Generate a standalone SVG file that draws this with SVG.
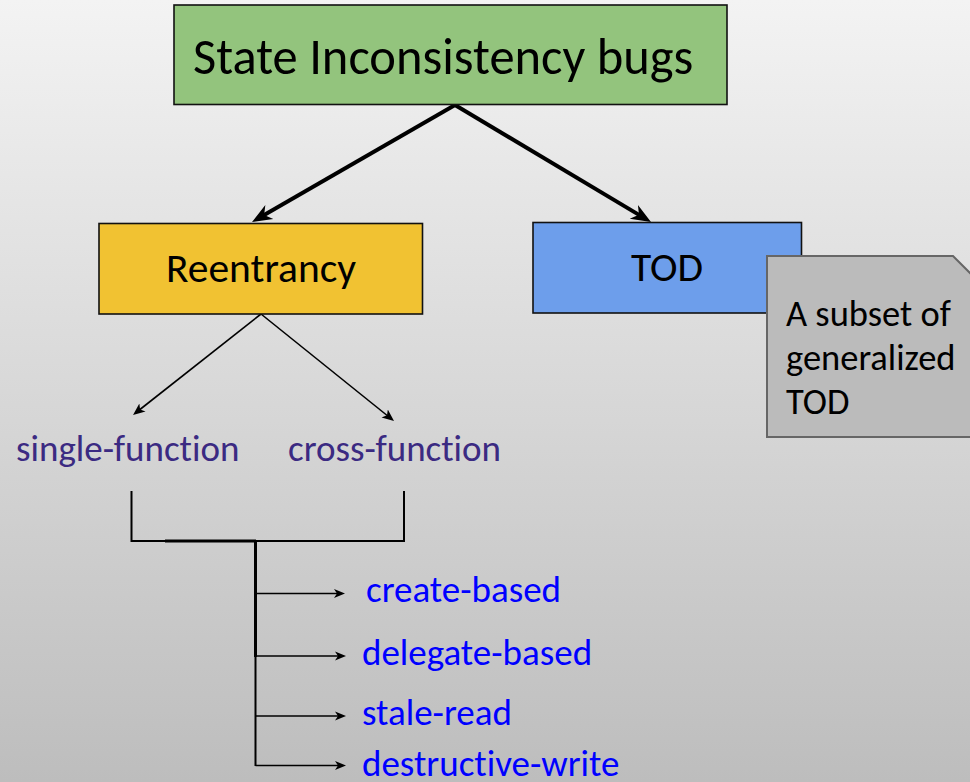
<svg xmlns="http://www.w3.org/2000/svg" width="970" height="782" viewBox="0 0 970 782">
<style>
.box{stroke:#111;stroke-width:1.6}
.t{font-family:Carlito,Calibri,Lato,"Liberation Sans",sans-serif;fill:#000;font-variant-ligatures:none;font-feature-settings:"liga" 0}
.big{font-size:50.5px}
.mid{font-size:41.5px}
.sub{font-size:37px;fill:#3b2a82}
.leaf{font-size:37px;fill:#0000ff}
.note{font-size:36.5px}
.thick{stroke:#000;stroke-width:4;fill:none}
.thin{stroke:#000;stroke-width:1.6;fill:none}
.br{stroke:#000;stroke-width:2;fill:none}
</style>
<defs>
<linearGradient id="bg" x1="0" y1="0" x2="0" y2="1">
<stop offset="0" stop-color="#f3f3f3"/>
<stop offset="1" stop-color="#bdbdbd"/>
</linearGradient>
<marker id="ahBig" markerUnits="userSpaceOnUse" markerWidth="22" markerHeight="20" viewBox="0 -10 22 20" refX="8" refY="0" orient="auto">
<path d="M0,-8 L20,0 L0,8 L6,0 Z" fill="#000"/>
</marker>
<marker id="ahMid" markerUnits="userSpaceOnUse" markerWidth="14" markerHeight="12" viewBox="0 -6 14 12" refX="4" refY="0" orient="auto">
<path d="M0,-5 L12,0 L0,5 L3,0 Z" fill="#000"/>
</marker>
<marker id="ahSm" markerUnits="userSpaceOnUse" markerWidth="13" markerHeight="10" viewBox="0 -5 13 10" refX="4" refY="0" orient="auto">
<path d="M0,-4.5 L11,0 L0,4.5 L3,0 Z" fill="#000"/>
</marker>
</defs>
<rect x="0" y="0" width="970" height="782" fill="url(#bg)"/>

<g id="connectors">
<line class="thick" x1="455" y1="105" x2="262.4" y2="216" marker-end="url(#ahBig)"/>
<line class="thick" x1="455" y1="105" x2="640.7" y2="215.9" marker-end="url(#ahBig)"/>
<line class="thin" x1="261" y1="314" x2="139.3" y2="410" marker-end="url(#ahMid)"/>
<line class="thin" x1="261" y1="314" x2="387.8" y2="416" marker-end="url(#ahMid)"/>
<polyline class="br" points="131.5,491 131.5,541 404,541 404,491"/>
<line stroke="#000" stroke-width="3" x1="165" y1="541" x2="256" y2="541"/>
<line stroke="#000" stroke-width="3" x1="255.5" y1="541" x2="255.5" y2="657"/>
<line class="br" x1="255.5" y1="656" x2="255.5" y2="766"/>
<line class="thin" x1="255.5" y1="593.5" x2="338" y2="593.5" marker-end="url(#ahSm)"/>
<line class="thin" x1="255.5" y1="656" x2="339" y2="656" marker-end="url(#ahSm)"/>
<line class="thin" x1="255.5" y1="716" x2="339" y2="716" marker-end="url(#ahSm)"/>
<line class="thin" x1="255.5" y1="765.5" x2="339" y2="765.5" marker-end="url(#ahSm)"/>
</g>

<g id="state-inconsistency">
<rect class="box" x="174" y="5" width="553" height="99.5" fill="#93c47d"/>
<text class="t big" x="193" y="74">State Inconsistency bugs</text>
</g>
<g id="reentrancy">
<rect class="box" x="99" y="223.5" width="323.5" height="90.5" fill="#f1c232"/>
<text class="t mid" x="261" y="282" text-anchor="middle">Reentrancy</text>
</g>
<g id="tod">
<rect class="box" x="533" y="222.5" width="268.5" height="90.5" fill="#6d9eeb"/>
<text class="t mid" x="667" y="281" text-anchor="middle">TOD</text>
</g>
<g id="note">
<path d="M767,256 H953 L972,275 V437 H767 Z" fill="#bbbbbb" stroke="#666" stroke-width="2"/>
<text class="t note" x="786" y="326">A subset of</text>
<text class="t note" x="786" y="370">generalized</text>
<text class="t note" x="786" y="414">TOD</text>
</g>
<g id="single-function"><text class="t sub" x="16" y="461">single-function</text></g>
<g id="cross-function"><text class="t sub" x="288" y="461">cross-function</text></g>
<g id="create-based"><text class="t leaf" x="366" y="602">create-based</text></g>
<g id="delegate-based"><text class="t leaf" x="362" y="665">delegate-based</text></g>
<g id="stale-read"><text class="t leaf" x="362" y="725">stale-read</text></g>
<g id="destructive-write"><text class="t leaf" x="362" y="775.5">destructive-write</text></g>
</svg>
